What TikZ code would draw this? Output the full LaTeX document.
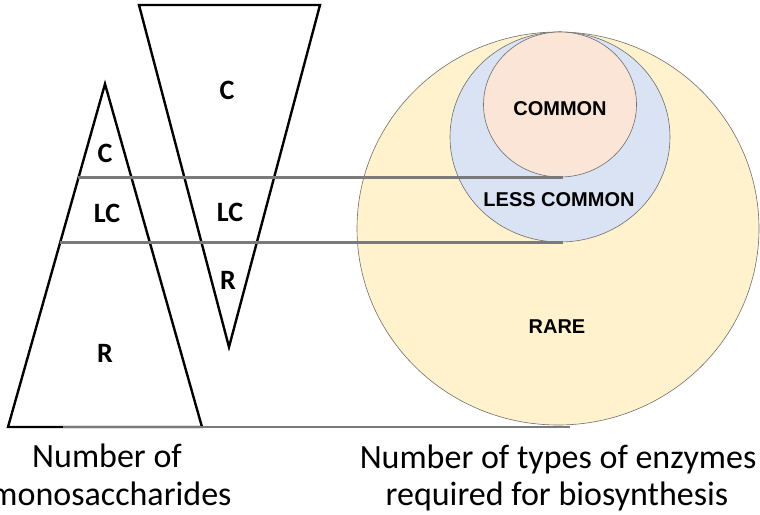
\documentclass[tikz,border=0pt]{standalone}
\usepackage{fontspec}
\usetikzlibrary{calc}
\newfontfamily\calibrifont{Carlito}
\newfontfamily\arialfont{Liberation Sans}
\definecolor{rareFill}{HTML}{FFF2CC}
\definecolor{lessFill}{HTML}{DAE3F3}
\definecolor{commonFill}{HTML}{FBE5D6}
\definecolor{ringLine}{HTML}{6E6E6E}
\definecolor{guide}{HTML}{7A7A7A}
\tikzset{
  ring/.style={draw=ringLine, line width=0.6pt},
  tri/.style={draw=black, line width=2.4pt, line join=miter},
  guideline/.style={draw=guide, line width=2.2pt},
  trilabel/.style={font=\calibrifont\bfseries\fontsize{28}{30}\selectfont, inner sep=0pt},
  ringlabel/.style={font=\arialfont\bfseries\fontsize{20}{22}\selectfont, inner sep=0pt},
  caption/.style={font=\calibrifont\fontsize{34}{38}\selectfont, inner sep=0pt, anchor=base},
}
\begin{document}
\begin{tikzpicture}[x=1pt, y=-1pt]
\useasboundingbox (0,0) rectangle (760,514);

% nested sets: rare > less common > common
\draw[ring, fill=rareFill]   (558,228.5) ellipse [x radius=201, y radius=196.5];
\draw[ring, fill=lessFill]   (560,137)   ellipse [x radius=110, y radius=105];
\draw[ring, fill=commonFill] (560,104.5) ellipse [x radius=76.5, y radius=72.5];

\node[ringlabel] (common) at (560,109) {COMMON};
\node[ringlabel] (less)   at (559,200) {LESS COMMON};
\node[ringlabel] (rare)   at (557,327) {RARE};

% corner points of the two triangles
\coordinate (up-apex) at (105,84);
\coordinate (up-bl)   at (8,427);
\coordinate (up-br)   at (202,427);
\coordinate (dn-tl)   at (139,5);
\coordinate (dn-tr)   at (320,5);
\coordinate (dn-apex) at (229,347);

% band boundaries carried across to the set diagram
\coordinate (b1-l) at ($(up-apex)!0.274!(up-bl)$);
\coordinate (b2-l) at ($(up-apex)!0.462!(up-bl)$);
\coordinate (b1-r) at (563,177.5);
\coordinate (b2-r) at (563,242.5);
\coordinate (b3-l) at (63,427);
\coordinate (b3-r) at (570,427);

\draw[tri] (up-apex) -- (up-br) -- (up-bl) -- cycle;
\draw[tri] (dn-tl) -- (dn-tr) -- (dn-apex) -- cycle;

\draw[guideline] (b1-l |- b1-r) -- (b1-r);
\draw[guideline] (b2-l |- b2-r) -- (b2-r);
\draw[guideline] (b3-l) -- (b3-r);

% band labels
\node[trilabel] (up-c)  at (105,153) {C};
\node[trilabel] (up-lc) at (107,213) {LC};
\node[trilabel] (up-r)  at (105,353) {R};
\node[trilabel] (dn-c)  at (227,90)  {C};
\node[trilabel] (dn-lc) at (230,212) {LC};
\node[trilabel] (dn-r)  at (228,280) {R};

% axis captions
\node[caption] (capL1) at (107,467) {Number of};
\node[caption] (capL2) at (111,505) {monosaccharides};
\node[caption] (capR1) at (558,468) {Number of types of enzymes};
\node[caption] (capR2) at (557,505) {required for biosynthesis};
\end{tikzpicture}
\end{document}
